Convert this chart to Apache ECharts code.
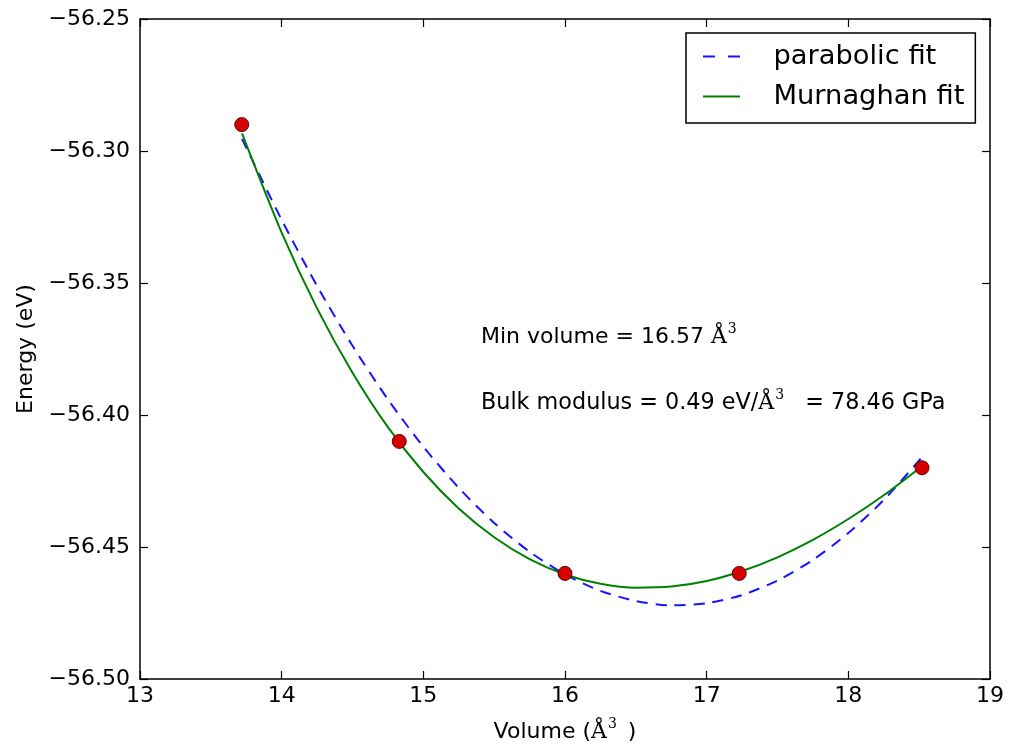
<!DOCTYPE html>
<html>
<head>
<meta charset="utf-8">
<script src="https://cdn.jsdelivr.net/npm/echarts@6/dist/echarts.min.js"></script>
<style>
html,body{margin:0;padding:0;background:#fff;}
#chart{width:1017px;height:748px;}
</style>
</head>
<body>
<div id="chart"></div>
<script>
// Data points (volume in Å^3, energy in eV)
var volumes = [13.718, 14.83, 16.0, 17.23, 18.52];
var energies = [-56.29, -56.41, -56.46, -56.46, -56.42];

// Fitted curves
var fitVolumes = [13.72, 14.0, 14.25, 14.5, 14.75, 15.0, 15.25, 15.5, 15.75, 16.0,
                  16.25, 16.5, 16.75, 17.0, 17.25, 17.5, 17.75, 18.0, 18.25, 18.52];
var parabolicE = [-56.2954, -56.3261, -56.3511, -56.3738, -56.3941, -56.4120, -56.4276, -56.4409, -56.4518, -56.4604,
                  -56.4666, -56.4705, -56.4721, -56.4713, -56.4682, -56.4627, -56.4549, -56.4447, -56.4322, -56.4160];
var murnaghanE = [-56.2933, -56.3309, -56.3596, -56.3840, -56.4046, -56.4216, -56.4354, -56.4463, -56.4546, -56.4604,
                  -56.4639, -56.4654, -56.4650, -56.4629, -56.4591, -56.4539, -56.4473, -56.4394, -56.4304, -56.4194];

var xTicks = [13, 14, 15, 16, 17, 18, 19];
var yTicks = [-56.50, -56.45, -56.40, -56.35, -56.30, -56.25];

function zip(a, b) { return a.map(function (v, i) { return [v, b[i]]; }); }

var FONT = 'DejaVu Sans';
var chart = echarts.init(document.getElementById('chart'));

var axisLine = { show: true, onZero: false, lineStyle: { color: '#000', width: 1.5 } };
var tickIn = { show: true, inside: true, length: 8, lineStyle: { color: '#000', width: 1.2 } };

function fmtY(v) { return v.toFixed(2).replace('-', '\u2212'); }

var option = {
  animation: false,
  backgroundColor: '#fff',
  grid: { left: 140, right: 27, top: 19, bottom: 68, show: false },
  legend: {
    data: [
      { name: 'parabolic fit', icon: 'path://M0,0h12v2h-12z M25,0h12v2h-12z' },
      { name: 'Murnaghan fit', icon: 'path://M0,0h37v2h-37z' }
    ],
    orient: 'vertical',
    left: 686, top: 33,
    padding: [10, 11, 13, 17],
    itemWidth: 40, itemHeight: 2, itemGap: 13,
    borderColor: '#000', borderWidth: 1.5, borderRadius: 0,
    backgroundColor: '#fff',
    textStyle: { fontFamily: FONT, fontSize: 27.3, color: '#000', padding: [0, 0, 0, 27] }
  },
  xAxis: [{
    type: 'value', min: xTicks[0], max: xTicks[xTicks.length - 1], interval: 1,
    name: '{n|Volume (}{a|Å}{s|3}{n| )}', nameLocation: 'middle', nameGap: 38,
    nameTextStyle: {
      fontFamily: FONT, fontSize: 22, color: '#000',
      rich: {
        n: { fontFamily: FONT, fontSize: 22, color: '#000', lineHeight: 30 },
        a: { fontFamily: 'DejaVu Serif', fontSize: 22, color: '#000', lineHeight: 30 },
        s: { fontFamily: 'DejaVu Serif', fontSize: 14, color: '#000', verticalAlign: 'top', lineHeight: 30, padding: [0, 4, 0, 1] }
      }
    },
    axisLine: axisLine, axisTick: tickIn,
    axisLabel: { fontFamily: FONT, fontSize: 22, color: '#000', margin: 6, showMinLabel: true, showMaxLabel: true },
    splitLine: { show: false }
  }, {
    type: 'value', position: 'top', min: xTicks[0], max: xTicks[xTicks.length - 1], interval: 1,
    axisLine: axisLine, axisTick: tickIn, axisLabel: { show: false }, splitLine: { show: false }
  }],
  yAxis: [{
    type: 'value', min: yTicks[0], max: yTicks[yTicks.length - 1], interval: 0.05,
    name: 'Energy (eV)', nameLocation: 'middle', nameGap: 101, nameRotate: 90,
    nameTextStyle: { fontFamily: FONT, fontSize: 22, color: '#000' },
    axisLine: axisLine, axisTick: tickIn,
    axisLabel: { fontFamily: FONT, fontSize: 22, color: '#000', margin: 10, formatter: fmtY, showMinLabel: true, showMaxLabel: true },
    splitLine: { show: false }
  }, {
    type: 'value', position: 'right', min: yTicks[0], max: yTicks[yTicks.length - 1], interval: 0.05,
    axisLine: axisLine, axisTick: tickIn, axisLabel: { show: false }, splitLine: { show: false }
  }],
  series: [{
    name: 'parabolic fit', type: 'line', smooth: 0.25,
    data: zip(fitVolumes, parabolicE),
    symbol: 'none', showSymbol: false,
    lineStyle: { color: '#1515ff', width: 2, type: [11, 8] },
    itemStyle: { color: '#1515ff' },
    z: 3
  }, {
    name: 'Murnaghan fit', type: 'line', smooth: 0.25,
    data: zip(fitVolumes, murnaghanE),
    symbol: 'none', showSymbol: false,
    lineStyle: { color: '#008000', width: 2 },
    itemStyle: { color: '#008000' },
    z: 4
  }, {
    name: 'data', type: 'scatter',
    data: zip(volumes, energies),
    symbol: 'circle', symbolSize: 14,
    itemStyle: { color: '#d60000', borderColor: '#600000', borderWidth: 1, opacity: 1 },
    z: 5
  }],
  graphic: [{
    type: 'text', left: 481, top: 322, z: 10,
    style: {
      text: '{n|Min volume = 16.57 }{a|Å}{s|3}',
      rich: {
        n: { fontFamily: FONT, fontSize: 22, fill: '#000', lineHeight: 30 },
        a: { fontFamily: 'DejaVu Serif', fontSize: 22, fill: '#000', lineHeight: 30 },
        s: { fontFamily: 'DejaVu Serif', fontSize: 14, fill: '#000', verticalAlign: 'top', lineHeight: 30, padding: [0, 0, 0, 1] }
      }
    }
  }, {
    type: 'text', left: 481, top: 388, z: 10,
    style: {
      text: '{n|Bulk modulus = 0.49 eV/}{a|Å}{s|3}{n|   = 78.46 GPa}',
      rich: {
        n: { fontFamily: FONT, fontSize: 22.3, fill: '#000', lineHeight: 30 },
        a: { fontFamily: 'DejaVu Serif', fontSize: 22, fill: '#000', lineHeight: 30 },
        s: { fontFamily: 'DejaVu Serif', fontSize: 14, fill: '#000', verticalAlign: 'top', lineHeight: 30, padding: [0, 0, 0, 1] }
      }
    }
  }]
};
chart.setOption(option);
</script>
</body>
</html>
